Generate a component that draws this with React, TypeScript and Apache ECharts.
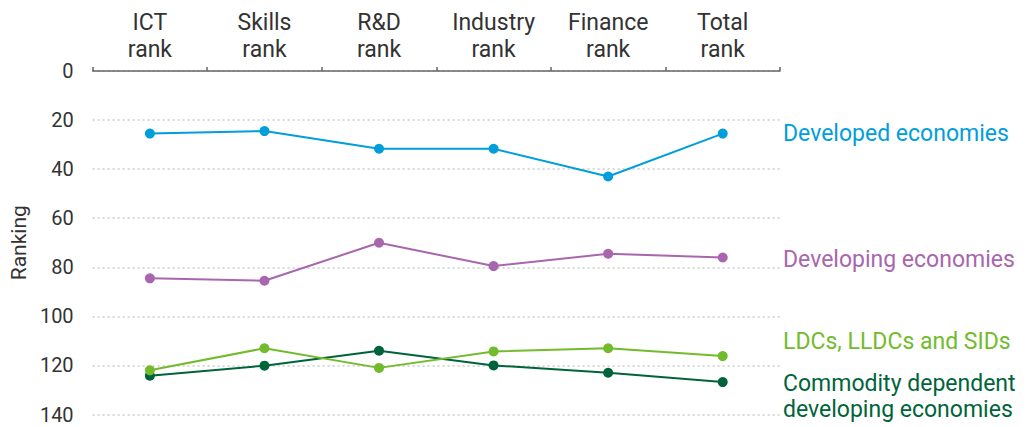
import React, { useEffect, useRef } from "react";
import * as echarts from "echarts";

const categories = ["ICT\nrank", "Skills\nrank", "R&D\nrank", "Industry\nrank", "Finance\nrank", "Total\nrank"];
const developed = [25.5, 24.5, 31.7, 31.7, 43, 25.5];
const developing = [84.5, 85.5, 70, 79.5, 74.5, 76];
const ldcs = [122, 113, 121, 114.3, 113, 116.2];
const commodity = [124.2, 120.1, 114, 120, 123, 126.8];
const yTicks = [0, 20, 40, 60, 80, 100, 120, 140];

const seriesNames = ["Developed economies", "Developing economies", "LDCs, LLDCs and SIDs", "Commodity dependent\ndeveloping economies"];
const colors = ["#009EDB", "#A866AE", "#72BB2C", "#00643A"];

const FONT = "Roboto, 'Noto Sans', sans-serif";

export default function App() {
  const ref = useRef<HTMLDivElement>(null);
  useEffect(() => {
    document.body.style.margin = "0";
    if (!ref.current) return;
    const chart = echarts.init(ref.current, undefined, { renderer: "svg" });
    const data = [developed, developing, ldcs, commodity];
    const labelY = [133, 259, 341, 396];
    chart.setOption({
      animation: false,
      textStyle: { fontFamily: FONT },
      grid: { left: 87, right: 248, top: 71, bottom: 12.5, containLabel: false },
      xAxis: {
        type: "category",
        position: "top",
        data: categories,
        boundaryGap: true,
        axisLine: { lineStyle: { color: "#666", width: 1.5 } },
        axisTick: { show: true, length: 4, lineStyle: { color: "#666", width: 1.5 } },
        axisLabel: { color: "#333", fontSize: 23, lineHeight: 27, margin: 8, fontFamily: FONT },
        splitLine: { show: false },
      },
      yAxis: {
        type: "value",
        inverse: true,
        min: yTicks[0],
        max: yTicks[yTicks.length - 1],
        interval: 20,
        name: "Ranking",
        nameLocation: "middle",
        nameRotate: 90,
        nameGap: 56,
        nameTextStyle: { color: "#333", fontSize: 21, fontFamily: FONT },
        axisLine: { show: false },
        axisTick: { show: false },
        axisLabel: { color: "#333", fontSize: 20, lineHeight: 20, margin: 19, fontFamily: FONT },
        splitLine: { show: true, lineStyle: { color: "#ccc", type: [2, 3], width: 1.5 } },
      },
      graphic: seriesNames.map((n, i) => ({
        type: "text",
        left: 783,
        top: labelY[i] - (i === 3 ? 26 : 13),
        style: {
          text: n,
          fill: colors[i],
          fontSize: 23,
          lineHeight: 26,
          fontFamily: FONT,
        },
      })),
      series: data.map((d, i) => ({
        name: seriesNames[i],
        type: "line",
        data: d,
        symbol: "circle",
        symbolSize: 10,
        lineStyle: { color: colors[i], width: 2 },
        itemStyle: { color: colors[i] },
        z: 10 - i,
      })),
    });
    return () => chart.dispose();
  }, []);
  return <div ref={ref} style={{ width: 1028, height: 427 }} />;
}
